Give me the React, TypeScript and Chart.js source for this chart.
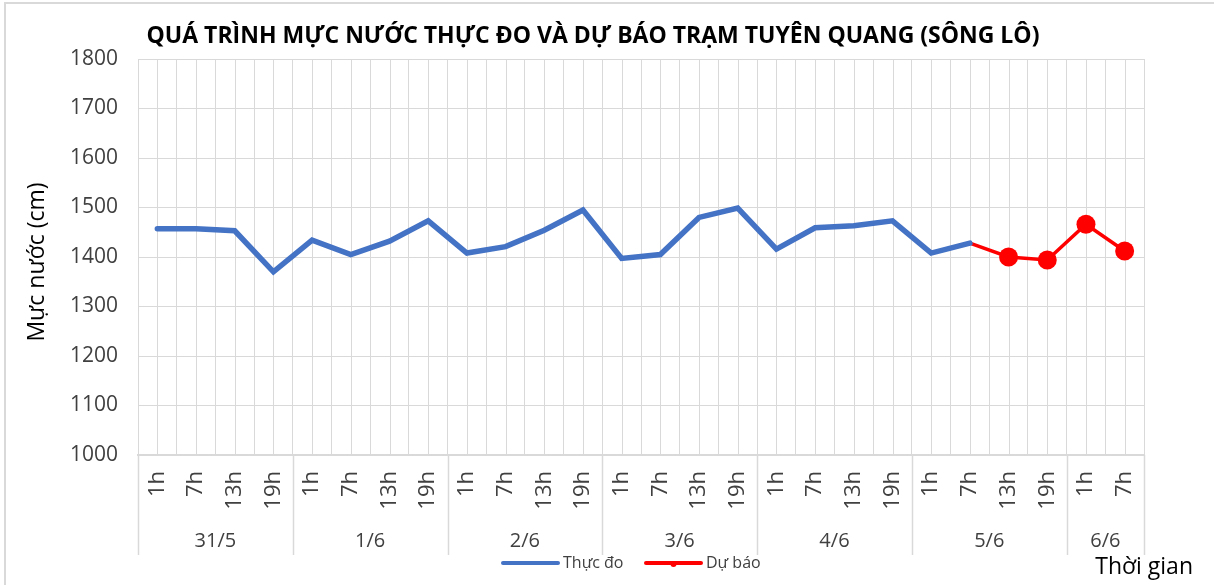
import { useEffect, useRef } from 'react';
import { Chart, registerables } from 'chart.js';

Chart.register(...registerables);

// ---------- Data ----------
const hourLabels = [
  '1h', '7h', '13h', '19h',
  '1h', '7h', '13h', '19h',
  '1h', '7h', '13h', '19h',
  '1h', '7h', '13h', '19h',
  '1h', '7h', '13h', '19h',
  '1h', '7h', '13h', '19h',
  '1h', '7h',
];
const dateLabels = ['31/5', '1/6', '2/6', '3/6', '4/6', '5/6', '6/6'];
const dateGroupSizes = [4, 4, 4, 4, 4, 4, 2];

const observedLevels: (number | null)[] = [
  1457, 1457, 1453, 1370,
  1434, 1405, 1432, 1473,
  1408, 1421, 1454, 1495,
  1397, 1405, 1480, 1499,
  1416, 1459, 1463, 1473,
  1408, 1428, null, null,
  null, null,
];
const forecastLevels: (number | null)[] = [
  null, null, null, null,
  null, null, null, null,
  null, null, null, null,
  null, null, null, null,
  null, null, null, null,
  null, 1428, 1400, 1394,
  1466, 1412,
];

const chartTitle = 'QUÁ TRÌNH MỰC NƯỚC THỰC ĐO VÀ DỰ BÁO TRẠM TUYÊN QUANG (SÔNG LÔ)';
const yAxisTitle = 'Mực nước (cm)';
const xAxisTitle = 'Thời gian';
const seriesNames = ['Thực đo', 'Dự báo'];

const FONT = '"Open Sans", sans-serif';
const GRID = '#d9d9d9';
const TEXT = '#404040';

const overlayPlugin = {
  id: 'overlay',
  beforeDatasetsDraw(chart: any) {
    const { ctx, chartArea, scales } = chart;
    const x = scales.x;
    ctx.save();
    ctx.strokeStyle = GRID;
    ctx.lineWidth = 1;
    for (let i = 0; i < hourLabels.length; i++) {
      const px = Math.round(x.getPixelForValue(i)) + 0.5;
      ctx.beginPath();
      ctx.moveTo(px, chartArea.top);
      ctx.lineTo(px, chartArea.bottom);
      ctx.stroke();
    }
    ctx.restore();
  },
  afterDraw(chart: any) {
    const { ctx, chartArea } = chart;
    const n = hourLabels.length;
    const step = (chartArea.right - chartArea.left) / n;
    ctx.save();
    // outer chart border
    ctx.strokeStyle = GRID;
    ctx.lineWidth = 2;
    ctx.strokeRect(5, 3, 1400, 800);

    // group separators and date labels
    ctx.lineWidth = 1.5;
    ctx.font = `20px ${FONT}`;
    ctx.fillStyle = TEXT;
    ctx.textAlign = 'center';
    ctx.textBaseline = 'middle';
    let start = 0;
    const drawSep = (k: number) => {
      const px = Math.round(chartArea.left + step * k) + 0.5;
      ctx.beginPath();
      ctx.moveTo(px, chartArea.bottom);
      ctx.lineTo(px, chartArea.bottom + 100);
      ctx.stroke();
    };
    drawSep(0);
    dateGroupSizes.forEach((size, gi) => {
      const end = start + size;
      drawSep(end);
      const cx = chartArea.left + step * (start + end) / 2;
      ctx.fillText(dateLabels[gi], cx, chartArea.bottom + 86);
      start = end;
    });

    // legend (drawn from the datasets)
    const legendY = 563;
    const legendStarts = [503, 646];
    ctx.font = `16px ${FONT}`;
    ctx.textAlign = 'left';
    chart.data.datasets.forEach((ds: any, i: number) => {
      const x0 = legendStarts[i];
      ctx.strokeStyle = ds.borderColor;
      ctx.lineWidth = 4;
      ctx.lineCap = 'round';
      ctx.beginPath();
      ctx.moveTo(x0, legendY);
      ctx.lineTo(x0 + 55, legendY);
      ctx.stroke();
      if (i === 1) {
        ctx.fillStyle = ds.borderColor;
        ctx.beginPath();
        ctx.arc(x0 + 27.5, legendY + 1, 3, 0, Math.PI * 2);
        ctx.fill();
      }
      ctx.fillStyle = TEXT;
      ctx.fillText(ds.label, x0 + 60, legendY);
    });
    ctx.lineCap = 'butt';

    // title
    ctx.textAlign = 'center';
    ctx.font = `bold 23px ${FONT}`;
    ctx.fillStyle = '#000000';
    ctx.fillText(chartTitle, 593, 36);

    // y axis title
    ctx.save();
    ctx.translate(37, 262);
    ctx.rotate(-Math.PI / 2);
    ctx.font = `23px ${FONT}`;
    ctx.fillStyle = '#000000';
    ctx.fillText(yAxisTitle, 0, 0);
    ctx.restore();

    // x axis title
    ctx.font = `23px ${FONT}`;
    ctx.fillStyle = '#000000';
    ctx.textAlign = 'right';
    ctx.fillText(xAxisTitle, 1193, 567);
    ctx.restore();
  },
};

export default function App() {
  const canvasRef = useRef<HTMLCanvasElement | null>(null);

  useEffect(() => {
    if (!canvasRef.current) return;
    const chart = new Chart(canvasRef.current, {
      type: 'line',
      data: {
        labels: hourLabels,
        datasets: [
          {
            label: seriesNames[0],
            data: observedLevels,
            borderColor: '#4472C4',
            backgroundColor: '#4472C4',
            borderWidth: 5.5,
            pointRadius: 0,
            pointHoverRadius: 0,
            tension: 0,
            borderCapStyle: 'round',
            borderJoinStyle: 'miter',
            spanGaps: false,
          },
          {
            label: seriesNames[1],
            data: forecastLevels,
            borderColor: '#FF0000',
            backgroundColor: '#FF0000',
            borderWidth: 3.5,
            pointRadius: (c: any) => (c.dataIndex > 21 ? 9.5 : 0),
            pointBorderWidth: 0,
            pointBackgroundColor: '#FF0000',
            tension: 0,
            spanGaps: false,
          },
        ],
      },
      options: {
        animation: false,
        responsive: true,
        maintainAspectRatio: false,
        layout: { padding: { left: 0, right: 70, top: 59, bottom: 49 } },
        plugins: {
          title: { display: false },
          tooltip: { enabled: false },
          legend: { display: false },
        },
        scales: {
          x: {
            type: 'category',
            offset: true,
            grid: {
              display: true,
              offset: true,
              color: GRID,
              lineWidth: 1,
              drawTicks: false,
            },
            border: { display: true, color: GRID, width: 2 },
            ticks: {
              autoSkip: false,
              maxRotation: 90,
              minRotation: 90,
              padding: 16,
              color: TEXT,
              font: { family: FONT, size: 22 },
            },
            afterFit: (scale: any) => {
              scale.height = 81;
            },
          },
          y: {
            min: 1000,
            max: 1800,
            grid: { color: GRID, lineWidth: 1, drawTicks: false },
            border: { display: true, color: GRID, width: 1 },
            ticks: {
              stepSize: 100,
              padding: 20,
              color: TEXT,
              font: { family: FONT, size: 21 },
              callback: (v: any) => String(v),
            },
            afterFit: (scale: any) => {
              scale.width = 138;
            },
          },
        },
      },
      plugins: [overlayPlugin],
    } as any);
    return () => chart.destroy();
  }, []);

  return (
    <div style={{ position: 'fixed', left: 0, top: 0, width: 1214, height: 585, background: '#ffffff' }}>
      <canvas ref={canvasRef} />
    </div>
  );
}
